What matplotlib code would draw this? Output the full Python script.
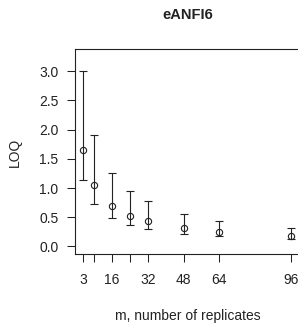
import matplotlib
matplotlib.use("Agg")
import matplotlib.pyplot as plt

plt.rcParams['font.family'] = ['Liberation Sans', 'DejaVu Sans']

# replicates and LOQ estimates with interval bounds
m = [3, 8, 16, 24, 32, 48, 64, 96]
loq = [1.65, 1.05, 0.69, 0.525, 0.43, 0.31, 0.245, 0.18]
lower = [1.14, 0.73, 0.48, 0.36, 0.30, 0.21, 0.175, 0.125]
upper = [3.0, 1.90, 1.26, 0.955, 0.77, 0.555, 0.44, 0.31]
tick_labels = ["3", "", "16", "", "32", "48", "64", "96"]

W, H = 298, 326
fig = plt.figure(figsize=(W / 100, H / 100), dpi=100)
# plot box: left 75px, top 49px, bottom 254px, right edge cut off by the image
ax = fig.add_axes([75 / W, (H - 254) / H, (305 - 75) / W, (254 - 49) / H])

yerr = [[c - lo for c, lo in zip(loq, lower)], [up - c for c, up in zip(loq, upper)]]
ax.errorbar(m, loq, yerr=yerr, fmt='o', mfc='none', mec='#222222', ms=4.5, mew=0.8,
            ecolor='#222222', elinewidth=0.8, capsize=2.6, capthick=0.8)

ax.set_xlim(-0.58, 3 + (305 - 83) / 2.237)
ax.set_ylim(-0.13, 3.38)
ax.set_xticks(m)
ax.set_xticklabels(tick_labels)
ax.set_yticks([0, 0.5, 1.0, 1.5, 2.0, 2.5, 3.0])
ax.set_yticklabels(["0.0", "0.5", "1.0", "1.5", "2.0", "2.5", "3.0"])
ax.tick_params(axis='both', length=5.8, width=0.75, color='#222222',
               labelsize=10, labelcolor='#222222')
ax.tick_params(axis='y', pad=6)
ax.tick_params(axis='x', pad=8)
for s in ax.spines.values():
    s.set_linewidth(0.8)
    s.set_color('#222222')
ax.spines['right'].set_visible(False)

fig.text(15 / W, 1 - 152 / H, "LOQ", rotation=90, ha='center', va='center',
         fontsize=10, color='#222222')
fig.text(188 / W, 1 - 316 / H, "m, number of replicates", ha='center', va='center',
         fontsize=10, color='#222222')
fig.text(188 / W, 1 - 15 / H, "eANFI6", ha='center', va='center',
         fontsize=10.5, fontweight='bold', color='#222222')

fig.savefig("out.png", dpi=100)
